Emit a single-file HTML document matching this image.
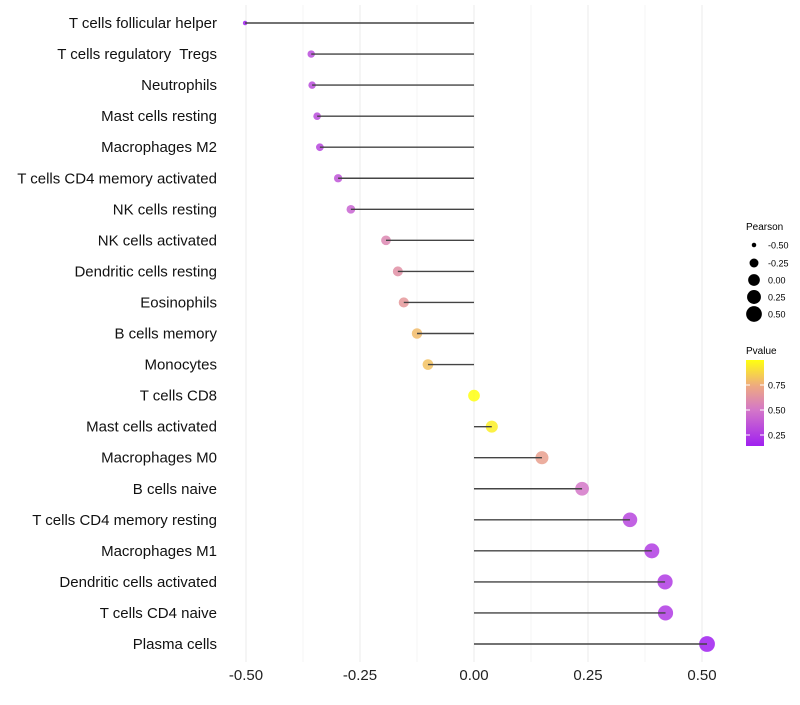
<!DOCTYPE html>
<html><head><meta charset="utf-8"><style>
body{margin:0;background:#fff;font-family:"Liberation Sans",sans-serif}
text{white-space:pre}
</style></head><body>
<svg id="chart" width="800" height="700" xmlns="http://www.w3.org/2000/svg" font-family="Liberation Sans, sans-serif">
<defs><linearGradient id="pg" x1="0" y1="1" x2="0" y2="0">
<stop offset="0" stop-color="#a020f0"/><stop offset="0.42" stop-color="#d477c8"/><stop offset="0.7" stop-color="#eeaa80"/><stop offset="1" stop-color="#ffff10"/>
</linearGradient></defs>
<g id="grid"></g><g id="dots"></g><g id="marks"></g><g id="ylabels"></g><g id="xlabels"></g>
<g font-size="10">
<text x="746" y="230">Pearson</text>
<g id="sizeleg"></g>
<text x="746" y="354">Pvalue</text>
<rect x="746" y="360" width="18" height="86" fill="url(#pg)"/>
<g id="colleg"></g>
</g>
</svg>
<script>
const categories=["T cells follicular helper","T cells regulatory  Tregs","Neutrophils","Mast cells resting","Macrophages M2","T cells CD4 memory activated","NK cells resting","NK cells activated","Dendritic cells resting","Eosinophils","B cells memory","Monocytes","T cells CD8","Mast cells activated","Macrophages M0","B cells naive","T cells CD4 memory resting","Macrophages M1","Dendritic cells activated","T cells CD4 naive","Plasma cells"];
const pearson=[-0.502,-0.357,-0.355,-0.344,-0.338,-0.298,-0.27,-0.193,-0.167,-0.154,-0.125,-0.101,0.0,0.039,0.149,0.237,0.342,0.39,0.419,0.42,0.511];
const pvalue=[0.1,0.32,0.32,0.32,0.3,0.36,0.42,0.58,0.62,0.66,0.8,0.82,1.0,0.95,0.7,0.5,0.3,0.26,0.25,0.25,0.12];
const xTicks=[-0.5,-0.25,0,0.25,0.5];
const xTickLabels=["-0.50","-0.25","0.00","0.25","0.50"];
const sizeBreaks=[-0.5,-0.25,0,0.25,0.5];
const sizeLabels=["-0.50","-0.25","0.00","0.25","0.50"];
const colorBreaks=[0.75,0.5,0.25];
const colorLabels=["0.75","0.50","0.25"];
const NS="http://www.w3.org/2000/svg";
const X=v=>474+456*v;
const Y=i=>23+i*31.05;
const R=v=>Math.sqrt(Math.max(0,(v+0.56)/1.07))*7.4+0.5;
function col(p){const st=[[0.14,[160,32,240]],[0.5,[212,119,200]],[0.75,[238,170,128]],[1,[255,255,16]]];
 p=Math.max(0.14,Math.min(1,p));for(let k=1;k<st.length;k++){if(p<=st[k][0]){const a=st[k-1],b=st[k],t=(p-a[0])/(b[0]-a[0]);return 'rgb('+a[1].map((c,j)=>Math.round(c+(b[1][j]-c)*t)).join(',')+')';}}return 'rgb(255,255,16)';}
function mk(t,a,p){const e=document.createElementNS(NS,t);for(const k in a)e.setAttribute(k,a[k]);p.appendChild(e);return e;}
const grid=document.getElementById('grid');
for(let v=-0.5;v<=0.5001;v+=0.125){const l=mk('line',{x1:X(v),x2:X(v),y1:5,y2:662,stroke:(Math.abs(v*4-Math.round(v*4))<1e-6)?'#ebebeb':'#f4f4f4','stroke-width':1},grid);

}
const dots=document.getElementById('dots'),marks=document.getElementById('marks'),yl=document.getElementById('ylabels'),xl=document.getElementById('xlabels');
categories.forEach((c,i)=>{
 const d=mk('circle',{cx:X(pearson[i]),cy:Y(i),r:R(pearson[i]),fill:col(pvalue[i]),'fill-opacity':0.85},dots);
 
 
 const s=mk('line',{x1:X(pearson[i]),x2:X(0),y1:Y(i),y2:Y(i),stroke:'#444','stroke-width':1.4},marks);
 
 
 const t=mk('text',{x:217,y:Y(i)+5,'text-anchor':'end','font-size':15,fill:'#111'},yl);t.textContent=c;
 
 
});
xTicks.forEach((v,i)=>{const t=mk('text',{x:X(v),y:680,'text-anchor':'middle','font-size':15,fill:'#222'},xl);t.textContent=xTickLabels[i];
 
 });
const sl=document.getElementById('sizeleg');const sy=[245,263,280,297,314];
sizeBreaks.forEach((v,i)=>{const c=mk('circle',{cx:754,cy:sy[i],r:R(v),fill:'#000'},sl);
 
 
 const t=mk('text',{x:768,y:sy[i]+3.5,'font-size':9},sl);t.textContent=sizeLabels[i];
 
 });
const cl=document.getElementById('colleg');
colorBreaks.forEach((v,i)=>{const yy=360+(1-v)*100;
 const l=mk('line',{x1:746,x2:750,y1:yy,y2:yy,stroke:'#fff'},cl);
 const l2=mk('line',{x1:760,x2:764,y1:yy,y2:yy,stroke:'#fff'},cl);
 const t=mk('text',{x:768,y:yy+3.5,'font-size':9},cl);t.textContent=colorLabels[i];
 
 });
</script>
</body></html>
